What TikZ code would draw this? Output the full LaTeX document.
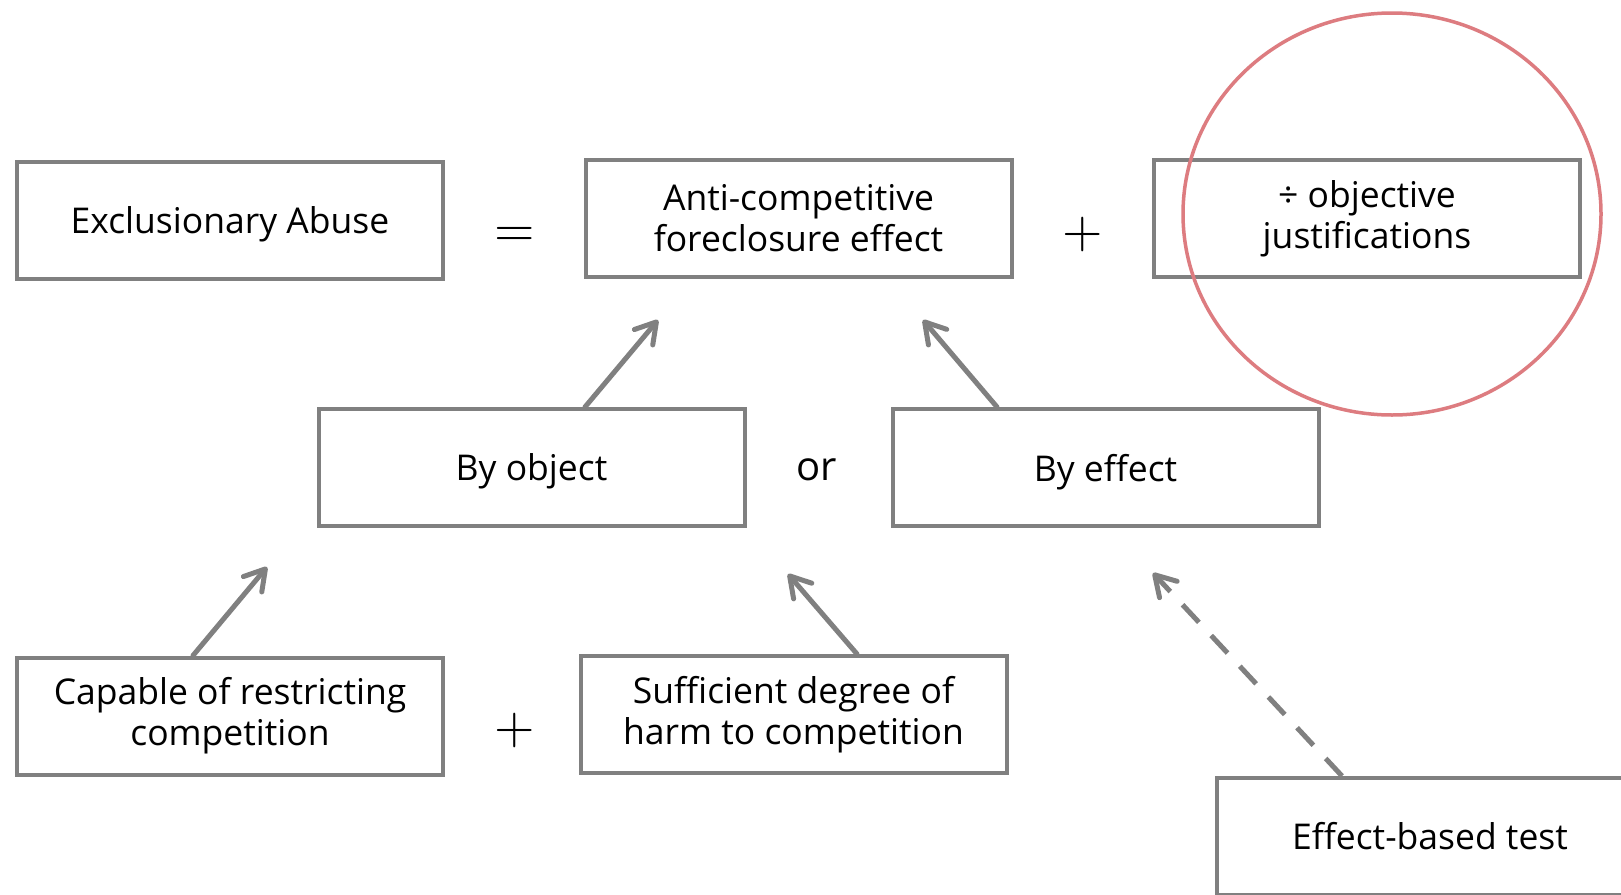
\documentclass[tikz,border=0pt]{standalone}
\usepackage{fontspec}
\setmainfont{Open Sans}
\usetikzlibrary{arrows.meta}
\definecolor{boxgray}{RGB}{128,128,128}
\definecolor{circred}{RGB}{221,124,128}
\newcommand\boxfont{\fontsize{35.5}{41}\selectfont}
\newcommand\orfont{\fontsize{40}{40}\selectfont}
\begin{document}
\begin{tikzpicture}[x=1pt,y=-1pt,
  box/.style={draw=boxgray, line width=4pt, minimum width=426pt, minimum height=117pt,
    inner sep=0pt, align=center, font=\boxfont, text=black},
  onebox/.style={box, text depth=0pt},
  op/.style={inner sep=0pt, anchor=base, scale=5.2},
  arr/.style={draw=boxgray, line width=5pt, line cap=round,
    -{Straight Barb[length=20pt,width=24pt,round]}},
  darr/.style={arr, line cap=butt, dash pattern=on 24pt off 18pt}]
\useasboundingbox (0,0) rectangle (1621,894);
\fill[white] (0,0) rectangle (1621,894);
\clip (0,0) rectangle (1621,894);
% boxes
\node[onebox] (excl) at (230,220) {Exclusionary Abuse};
\node[box] (anti) at (798.5,218.5) {Anti-competitive\\foreclosure effect};
\node[box] (just) at (1367,218.5) {÷ objective\\justifications};
\node[onebox] (obj) at (531.5,467.5) {By object};
\node[onebox] (eff) at (1105.5,467.5) {By effect};
\node[box] (cap) at (230,716) {Capable of restricting\\competition};
\node[box] (suff) at (793.5,714.5) {Sufficient degree of\\harm to competition};
\node[box] (test) at (1430,836.5) {Effect-based test};
% operators
\node[op] (eq) at (514.5,246) {$=$};
\node[op] (plus1) at (1082.5,247) {$+$};
\node[op] (plus2) at (514.5,743.5) {$+$};
\node[inner sep=0pt, anchor=base, font=\orfont] (or) at (816.5,480) {or};
% arrow tips
\coordinate (t1) at (658,320);
\coordinate (t2) at (923,320);
\coordinate (t3) at (267,567);
\coordinate (t4) at (788,574);
\coordinate (t5) at (1153,573);
\draw[arr] ([xshift=53.5pt]obj.north) -- (t1);
\draw[arr] ([xshift=-108.5pt]eff.north) -- (t2);
\draw[arr] ([xshift=-37pt]cap.north) -- (t3);
\draw[arr] ([xshift=63.5pt]suff.north) -- (t4);
\draw[darr] ([xshift=-88pt]test.north) -- (t5);
% highlight
\draw[circred, line width=3.5pt] (1392,214) ellipse [x radius=209pt, y radius=201pt];
\end{tikzpicture}
\end{document}
